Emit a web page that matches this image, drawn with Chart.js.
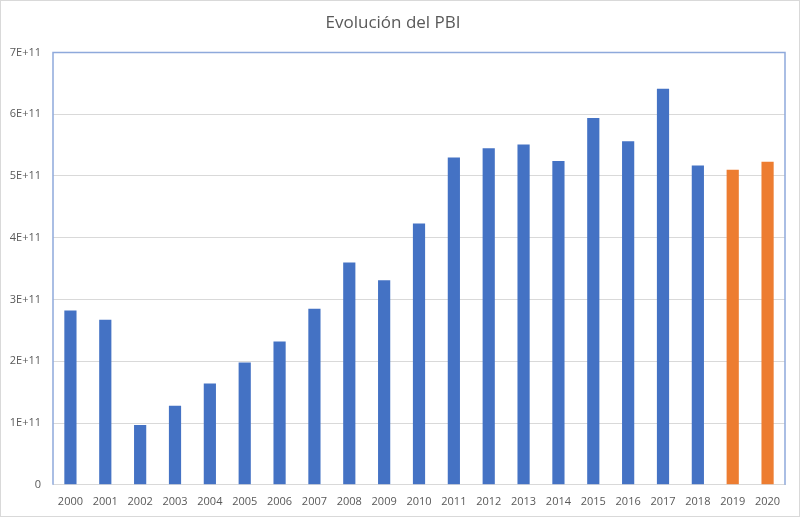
<!DOCTYPE html>
<html>
<head>
<meta charset="utf-8">
<script src="https://cdn.jsdelivr.net/npm/chart.js@4"></script>
<style>
    body { margin: 0; background: #fff; }
    #wrap { width: 798px; height: 515px; border: 1px solid #d9d9d9; }
</style>
</head>
<body>
<div id="wrap"><canvas id="pbiChart" width="798" height="515"></canvas></div>
<script>
// datos del gráfico
const years = ['2000', '2001', '2002', '2003', '2004', '2005', '2006', '2007', '2008', '2009', '2010',
    '2011', '2012', '2013', '2014', '2015', '2016', '2017', '2018', '2019', '2020'];
const pbi = [2.82e11, 2.67e11, 0.97e11, 1.28e11, 1.64e11, 1.98e11, 2.32e11, 2.85e11, 3.60e11, 3.31e11, 4.23e11,
    5.30e11, 5.45e11, 5.51e11, 5.24e11, 5.94e11, 5.56e11, 6.41e11, 5.17e11, 5.10e11, 5.23e11];
const projected = ['2019', '2020'];  // años en naranja

const barColors = years.map(y => projected.includes(y) ? '#ED7D31' : '#4472C4');

// borde azul del área de trazado
const plotBorder = {
    id: 'plotBorder',
    afterDraw(chart) {
        const { ctx, chartArea: a } = chart;
        ctx.save();
        ctx.strokeStyle = '#8EA9DB';
        ctx.lineWidth = 1.5;
        ctx.beginPath();
        ctx.moveTo(a.left, a.bottom);
        ctx.lineTo(a.left, a.top);
        ctx.lineTo(a.right, a.top);
        ctx.lineTo(a.right, a.bottom);
        ctx.stroke();
        ctx.restore();
    }
};

new Chart(document.getElementById('pbiChart'), {
    type: 'bar',
    data: {
        labels: years,
        datasets: [{
            label: 'PBI',
            data: pbi,
            backgroundColor: barColors,
            barPercentage: 0.35,
            categoryPercentage: 1
        }]
    },
    options: {
        responsive: false,
        animation: false,
        layout: { padding: { left: 0, right: 14, top: 0, bottom: 6 } },
        plugins: {
            legend: { display: false },
            tooltip: { enabled: false },
            title: {
                display: true,
                text: 'Evolución del PBI',
                color: '#595959',
                font: { family: 'Open Sans', size: 17, weight: 'normal' },
                padding: { top: 12, bottom: 19 }
            }
        },
        scales: {
            x: {
                grid: { display: false },
                border: { color: '#d9d9d9', width: 1 },
                ticks: {
                    color: '#595959',
                    font: { family: 'Open Sans', size: 11 },
                    padding: 2,
                    maxRotation: 0
                }
            },
            y: {
                min: 0,
                max: 7e11,
                afterFit(scale) { scale.width = 52; },
                grid: { color: '#d9d9d9', drawTicks: false },
                border: { display: false },
                ticks: {
                    stepSize: 1e11,
                    color: '#595959',
                    font: { family: 'Open Sans', size: 11 },
                    padding: 12,
                    callback: v => v === 0 ? '0' : (v / 1e11) + 'E+11'
                }
            }
        }
    },
    plugins: [plotBorder]
});
</script>
</body>
</html>
